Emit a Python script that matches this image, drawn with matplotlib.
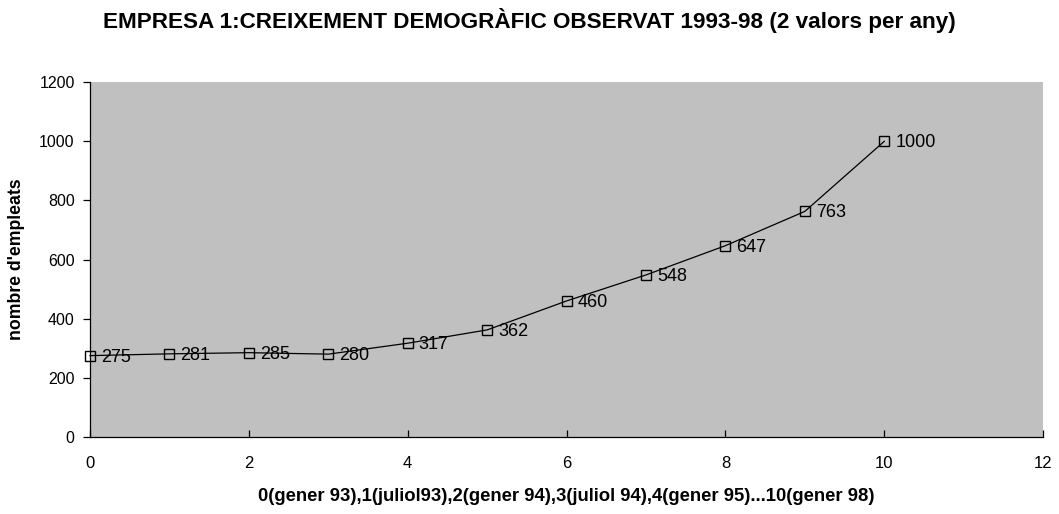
import matplotlib
matplotlib.use("Agg")
import matplotlib.pyplot as plt

plt.rcParams['font.family'] = ['Liberation Sans', 'DejaVu Sans']

periods = [0, 1, 2, 3, 4, 5, 6, 7, 8, 9, 10]
employees = [275, 281, 285, 280, 317, 362, 460, 548, 647, 763, 1000]

title = "EMPRESA 1:CREIXEMENT DEMOGRÀFIC OBSERVAT 1993-98 (2 valors per any)"
xlabel = "0(gener 93),1(juliol93),2(gener 94),3(juliol 94),4(gener 95)...10(gener 98)"
ylabel = "nombre d'empleats"

fig = plt.figure(figsize=(10.59, 5.14), dpi=100)
ax = fig.add_axes([0.085, 0.150, 0.900, 0.690])
ax.set_facecolor('#c0c0c0')

ax.plot(periods, employees, color='black', linewidth=0.9, marker='s',
        markersize=6.5, markerfacecolor='none', markeredgecolor='black',
        markeredgewidth=1.0, clip_on=False, zorder=3)

for x, y in zip(periods, employees):
    ax.annotate(str(y), (x, y), xytext=(8, -1), textcoords='offset points',
                ha='left', va='center', fontsize=13, color='black')

ax.set_xlim(0, 12)
ax.set_ylim(0, 1200)
ax.set_xticks(range(0, 13, 2))
ax.set_yticks(range(0, 1201, 200))

for s in ['top', 'right']:
    ax.spines[s].set_visible(False)
for s in ['left', 'bottom']:
    ax.spines[s].set_color('black')
    ax.spines[s].set_linewidth(0.9)

ax.tick_params(axis='y', direction='out', length=5, width=0.9, labelsize=11.5, pad=6)
ax.tick_params(axis='x', direction='in', length=5, width=0.9, labelsize=12, pad=14)

ax.set_xlabel(xlabel, fontsize=13.3, fontweight='bold', labelpad=12)
ax.set_ylabel(ylabel, fontsize=12.7, fontweight='bold', labelpad=10)
fig.text(0.5, 0.961, title, ha='center', va='center', fontsize=16.2, fontweight='bold')

fig.savefig('out.png', dpi=100)
